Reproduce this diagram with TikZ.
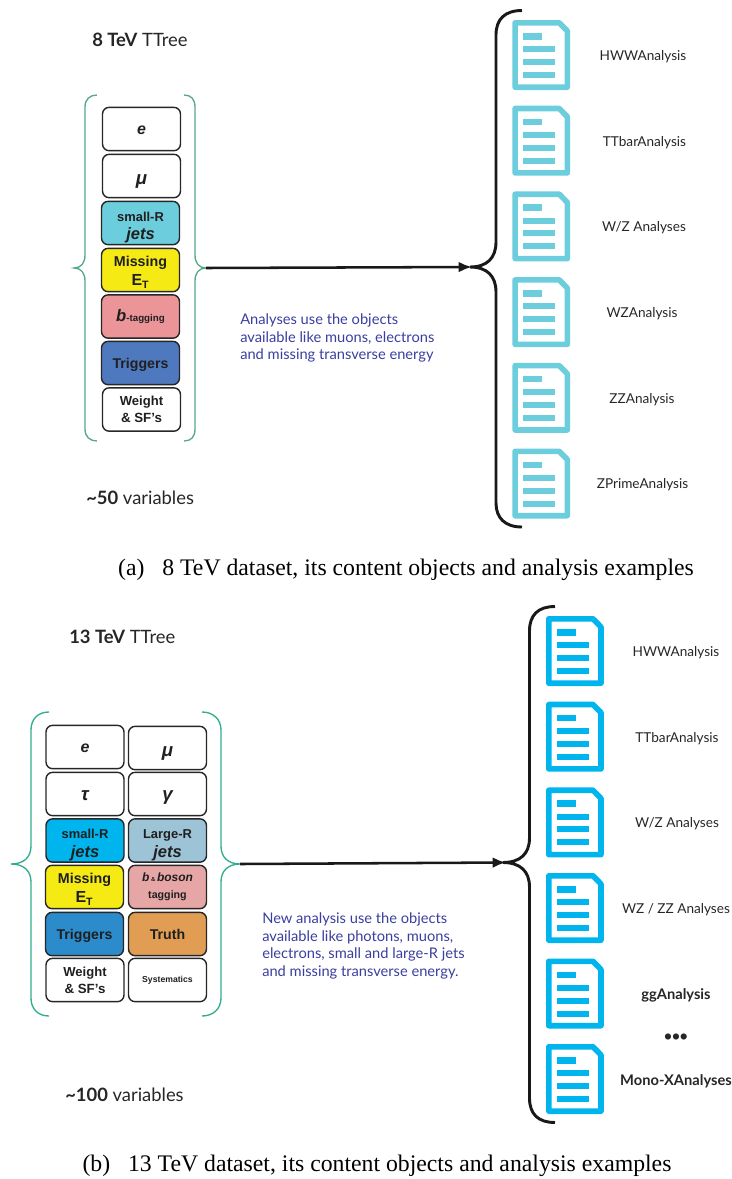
\documentclass[tikz,border=0pt]{standalone}
\usepackage{fontspec}
\usepackage{tikz}
\usetikzlibrary{shapes,arrows.meta}
\newfontfamily\boxfont{Liberation Sans}
\newfontfamily\labelfont{Lato}
\newfontfamily\capfont{Liberation Serif}
\definecolor{bracegreenA}{HTML}{56A985}
\definecolor{bracegreenB}{HTML}{2FAE8E}
\definecolor{iconcyan}{HTML}{6CCDDD}
\definecolor{iconblue}{HTML}{00B4EE}
\definecolor{yellowbox}{HTML}{F5EA14}
\definecolor{pinkboxA}{HTML}{EC9599}
\definecolor{pinkboxB}{HTML}{E7A6A6}
\definecolor{trigA}{HTML}{4F79BF}
\definecolor{trigB}{HTML}{2B8BCB}
\definecolor{largeR}{HTML}{9DC3D6}
\definecolor{truthbox}{HTML}{E29D55}
\definecolor{notetext}{HTML}{3A3F9F}
\tikzset{
  objbox/.style={draw=black!85,line width=1.05pt,rounded corners=5pt,minimum width=58.5pt,minimum height=32.5pt,inner sep=0pt,align=center,text=black!88,font=\boxfont\bfseries\fontsize{10}{12.5}\selectfont},
  greenbrace/.style={line width=1pt},
  bigbrace/.style={line width=2.2pt,black!90},
  bigarrow/.style={line width=1.9pt,-{Latex[length=10pt,width=8pt]},black!90},
  analysis/.style={inner sep=0pt,text=black!85,font=\labelfont\fontsize{10.2}{12}\selectfont},
  heading/.style={inner sep=0pt,text=black!85,font=\labelfont\fontsize{13.8}{16}\selectfont},
  note/.style={anchor=west,align=left,inner sep=0pt,text=notetext,font=\labelfont\fontsize{11}{13.1}\selectfont},
  captiontext/.style={inner sep=0pt,font=\capfont\fontsize{17.8}{20}\selectfont},
  docicon/.pic={
    \begin{scope}[yscale=-1]
    \draw [line width=4.2pt,line join=round] (2.8,2.8) -- (47,2.8) -- (55,11) -- (55,67.2) -- (2.8,67.2) -- cycle ;
    \fill (11,13) rectangle (30,19.5) ;
    \fill (11,26.3) rectangle (42.5,32.3) ;
    \fill (11,39) rectangle (42.5,45) ;
    \fill (11,52) rectangle (42.5,58) ;
    \end{scope}
  }
}
\begin{document}
\begin{tikzpicture}[x=0.75pt,y=0.75pt,yscale=-1,xscale=1]
    \useasboundingbox (0,0) rectangle (732,1179);

    % Upper panel: headings
    \node (headA) [heading,anchor=west] at (92,40) {\textbf{8 TeV} TTree};
    \node (varsA) [heading,anchor=west] at (86,498) {\textbf{\char`\~50} variables};

    % Upper panel: object boxes
    \node (eA) [objbox] at (141.5,129) {\rule{0pt}{8pt}\fontsize{12}{14}\selectfont\itshape e};
    \node (muA) [objbox] at (141.5,176) {\rule{0pt}{15pt}\fontsize{14}{14}\selectfont\itshape μ};
    \node (jetsA) [objbox,fill=iconcyan] at (140.5,223) {\rule{0pt}{14pt}\fontsize{9.7}{11}\selectfont small-R\\[1.5pt]\fontsize{12.4}{12}\selectfont\itshape jets};
    \node (metA) [objbox,fill=yellowbox] at (140.5,270) {\rule{0pt}{11pt}\fontsize{10.7}{13}\selectfont Missing\\[2pt]\fontsize{12}{13}\selectfont E\textsubscript{T}};
    \node (btagA) [objbox,fill=pinkboxA] at (140.5,316.5) {{\fontsize{12.5}{14}\selectfont\itshape b}{\fontsize{7.3}{14}\selectfont -tagging}};
    \node (trigA) [objbox,fill=trigA] at (140.5,363) {\rule{0pt}{11pt}\fontsize{10.6}{13}\selectfont Triggers};
    \node (weightA) [objbox] at (141.5,409.5) {\fontsize{9.8}{12.5}\selectfont Weight\\\& SF’s};

    %Curve Lines: left and right brace of the objects
    \draw [bracegreenA,greenbrace] (97,95) .. controls (90,95) and (85,99) .. (85,107) -- (85,255) .. controls (85,263) and (81,268) .. (74,268) .. controls (81,268) and (85,273) .. (85,281) -- (85,429) .. controls (85,437) and (90,441) .. (97,441) ;
    \draw [bracegreenA,greenbrace] (184,95) .. controls (191,95) and (195,99) .. (195,107) -- (195,255) .. controls (195,263) and (199,268) .. (206,268) .. controls (199,268) and (195,273) .. (195,281) -- (195,429) .. controls (195,437) and (191,441) .. (184,441) ;

    % Upper panel: arrow and big brace
    \coordinate (fromA) at (206,268);
    \coordinate (toA) at (472,267);
    \draw [bigarrow] (fromA) -- (toA);
    \draw [bigbrace] (522,10.5) .. controls (505,10.5) and (496,19) .. (496,35) -- (496,242) .. controls (496,258) and (487,267) .. (470,267) .. controls (487,267) and (496,276) .. (496,292) -- (496,503) .. controls (496,518) and (505,527) .. (522,527) ;

    % Text Node
    \node (noteA) [note] at (240,338) {Analyses use the objects\\available like muons, electrons\\and missing transverse energy};

    % Upper panel: analyses
    \pic [iconcyan] at (512.3,20) {docicon};
    \pic [iconcyan] at (512.3,105.7) {docicon};
    \pic [iconcyan] at (512.3,191.4) {docicon};
    \pic [iconcyan] at (512.3,277.1) {docicon};
    \pic [iconcyan] at (512.3,362.8) {docicon};
    \pic [iconcyan] at (512.3,448.5) {docicon};
    \node (hwwA) [analysis] at (643,56.5) {HWWAnalysis};
    \node (ttbarA) [analysis] at (644.5,142.2) {TTbarAnalysis};
    \node (wzsA) [analysis] at (644,228) {W/Z Analyses};
    \node (wzA) [analysis] at (642,313.7) {WZAnalysis};
    \node (zzA) [analysis] at (642,399.4) {ZZAnalysis};
    \node (zprimeA) [analysis] at (642.5,485) {ZPrimeAnalysis};

    \node (capA) [captiontext] at (406,570) {(a)\hspace{0.75em}8 TeV dataset, its content objects and analysis examples};

    % Lower panel: headings
    \node (headB) [heading,anchor=west] at (69,637) {\textbf{13 TeV} TTree};
    \node (varsB) [heading,anchor=west] at (65,1095) {\textbf{\char`\~100} variables};

    % Lower panel: object boxes
    \node (eB) [objbox] at (85,747) {\rule{0pt}{8pt}\fontsize{12}{14}\selectfont\itshape e};
    \node (muB) [objbox] at (167.5,748) {\rule{0pt}{15pt}\fontsize{14}{14}\selectfont\itshape μ};
    \node (tauB) [objbox] at (85,794) {\rule{0pt}{10pt}\fontsize{14}{14}\selectfont\itshape τ};
    \node (gammaB) [objbox] at (167.5,794) {\rule{0pt}{13pt}\fontsize{14}{14}\selectfont\itshape γ};
    \node (jetsB) [objbox,fill=iconblue] at (85,840.5) {\rule{0pt}{14pt}\fontsize{9.7}{11}\selectfont small-R\\[1.5pt]\fontsize{12.4}{12}\selectfont\itshape jets};
    \node (largeB) [objbox,fill=largeR] at (167.5,840.5) {\rule{0pt}{14pt}\fontsize{9.7}{11}\selectfont Large-R\\[1.5pt]\fontsize{12.4}{12}\selectfont\itshape jets};
    \node (metB) [objbox,fill=yellowbox] at (84.5,887) {\rule{0pt}{11pt}\fontsize{10.7}{13}\selectfont Missing\\[2pt]\fontsize{12}{13}\selectfont E\textsubscript{T}};
    \node (btagB) [objbox,fill=pinkboxB] at (167.5,887) {{\fontsize{9}{10.5}\selectfont\itshape b}{\fontsize{4.5}{10.5}\selectfont\ \& }{\fontsize{9}{10.5}\selectfont\itshape boson}\\\fontsize{8}{10.5}\selectfont tagging};
    \node (trigB) [objbox,fill=trigB] at (84.5,934) {\rule{0pt}{11pt}\fontsize{10.6}{13}\selectfont Triggers};
    \node (truthB) [objbox,fill=truthbox] at (167.5,934) {\fontsize{10.6}{13}\selectfont Truth};
    \node (weightB) [objbox] at (85,980) {\fontsize{9.8}{12.5}\selectfont Weight\\\& SF’s};
    \node (systB) [objbox] at (167.5,980) {\fontsize{6.5}{8}\selectfont Systematics};

    %Curve Lines: left and right brace of the objects
    \draw [bracegreenB,greenbrace] (49,712) .. controls (38,712) and (31,719) .. (31,730) -- (31,846) .. controls (31,857) and (24,864) .. (11,864) .. controls (24,864) and (31,871) .. (31,882) -- (31,998) .. controls (31,1009) and (38,1016) .. (49,1016) ;
    \draw [bracegreenB,greenbrace] (202,712) .. controls (213,712) and (221,719) .. (221,730) -- (221,846) .. controls (221,857) and (228,864) .. (240,864) .. controls (228,864) and (221,871) .. (221,882) -- (221,998) .. controls (221,1009) and (213,1016) .. (202,1016) ;

    % Lower panel: arrow and big brace
    \coordinate (fromB) at (240,864);
    \coordinate (toB) at (506,862.5);
    \draw [bigarrow] (fromB) -- (toB);
    \draw [bigbrace] (555,606.5) .. controls (538,606.5) and (529.5,615) .. (529.5,631) -- (529.5,838) .. controls (529.5,854) and (520,862.5) .. (503,862.5) .. controls (520,862.5) and (529.5,871) .. (529.5,887) -- (529.5,1098) .. controls (529.5,1114) and (538,1122.5) .. (555,1122.5) ;

    % Text Node
    \node (noteB) [note] at (262,946) {New analysis use the objects\\available like photons, muons,\\electrons, small and large-R jets\\and missing transverse energy.};

    % Lower panel: analyses
    \pic [iconblue] at (546,616) {docicon};
    \pic [iconblue] at (546,701.7) {docicon};
    \pic [iconblue] at (546,787.4) {docicon};
    \pic [iconblue] at (546,873) {docicon};
    \pic [iconblue] at (546,958.5) {docicon};
    \pic [iconblue] at (546,1044) {docicon};
    \node (hwwB) [analysis] at (676,652.5) {HWWAnalysis};
    \node (ttbarB) [analysis] at (677,738.2) {TTbarAnalysis};
    \node (wzsB) [analysis] at (677,824) {W/Z Analyses};
    \node (wzzzB) [analysis] at (676,909.5) {WZ / ZZ Analyses};
    \node (ggB) [analysis] at (676,995.5) {\fontsize{11}{12}\selectfont\textbf{ggAnalysis}};
    \node (dotsB) [analysis] at (676,1039) {\fontsize{17}{17}\selectfont\boxfont •••};
    \node (monoB) [analysis] at (676,1081) {\fontsize{11}{12}\selectfont\textbf{Mono-XAnalyses}};

    \node (capB) [captiontext] at (377,1165.5) {(b)\hspace{0.75em}13 TeV dataset, its content objects and analysis examples};
\end{tikzpicture}
\end{document}
